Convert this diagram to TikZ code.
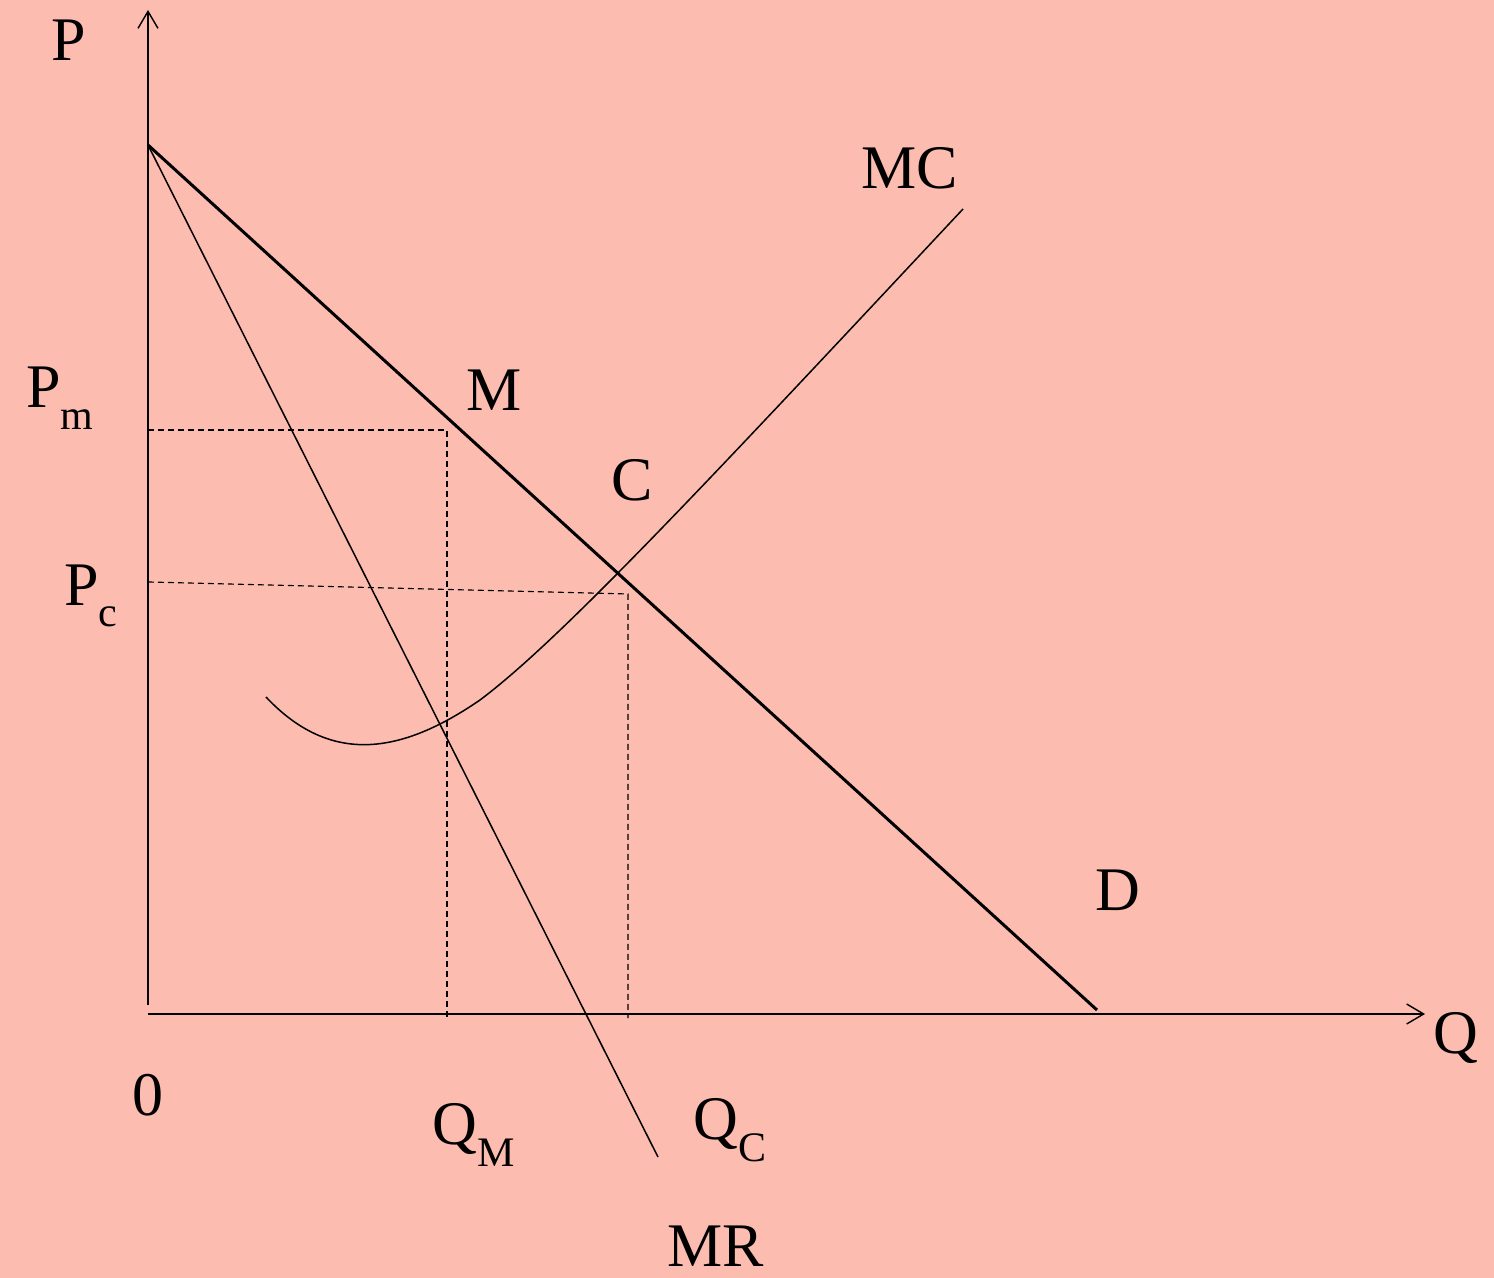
\documentclass[tikz,border=0pt]{standalone}
\usepackage{fontspec}
\setmainfont{Liberation Serif}
\usetikzlibrary{arrows.meta}
\definecolor{bgpink}{RGB}{252,188,176}
\tikzset{
  lbl/.style={font=\fontsize{31}{31}\selectfont, inner sep=0pt},
  axis/.style={line width=0.7pt, -{Straight Barb[length=8.5pt,width=10pt,line width=0.7pt]}},
  thinline/.style={line width=0.75pt},
  thickline/.style={line width=1.5pt},
  guide/.style={line width=0.6pt, dash pattern=on 3pt off 2pt, color=black},
}
\newcommand{\sbs}[1]{\raisebox{-0.35em}{\fontsize{21}{21}\selectfont #1}}
\begin{document}
\begin{tikzpicture}[x=0.5pt,y=-0.5pt]
\fill[bgpink] (0,0) rectangle (1494,1278);
\useasboundingbox (0,0) rectangle (1494,1278);
% coordinates
\coordinate (ybot) at (148,1005);
\coordinate (ytop) at (148,10);
\coordinate (xleft) at (148,1014);
\coordinate (xright) at (1425,1014);
\coordinate (top) at (148,145);
\coordinate (dend) at (1097,1010);
\coordinate (mrend) at (658,1157);
\coordinate (mcstart) at (266,697);
\coordinate (mcmid) at (480,700);
\coordinate (mcend) at (963,209);
\coordinate (pm) at (148,430);
\coordinate (mpt) at (447,430);
\coordinate (qm) at (447,1020);
\coordinate (pc) at (148,582);
\coordinate (cpt) at (628,594);
\coordinate (qc) at (628,1018);
% axes
\draw[axis] (ybot) -- (ytop);
\draw[axis] (xleft) -- (xright);
% curves
\draw[thickline] (top) -- (dend);
\draw[thinline] (top) -- (mrend);
\draw[thinline] (mcstart) .. controls (330,765) and (400,755) .. (mcmid)
  .. controls (560,640) and (700,490) .. (mcend);
% guides
\draw[guide] (pm) -- (mpt) -- (qm);
\draw[guide] (pc) -- (cpt) -- (qc);
% labels
\node[lbl] (lP) at (69,40) {P};
\node[lbl] (lMC) at (910,168) {MC};
\node[lbl] (lM) at (494,390) {M};
\node[lbl] (lC) at (632,480) {C};
\node[lbl] (lPm) at (60,398) {P\sbs{m}};
\node[lbl] (lPc) at (91,596) {P\sbs{c}};
\node[lbl] (lD) at (1118,890) {D};
\node[lbl] (lQ) at (1456,1038) {Q};
\node[lbl] (l0) at (148,1095) {0};
\node[lbl] (lQM) at (474,1135) {Q\sbs{M}};
\node[lbl] (lQC) at (730,1130) {Q\sbs{C}};
\node[lbl] (lMR) at (716,1246) {MR};
\end{tikzpicture}
\end{document}
